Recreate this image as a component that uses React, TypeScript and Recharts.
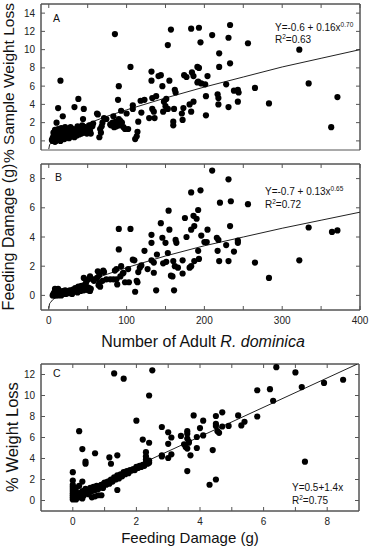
import React from "react";
import { ScatterChart, Scatter, XAxis, YAxis, ReferenceArea } from "recharts";

// tick positions
const adultTicks = [0, 50, 100, 150, 200, 250, 300, 350, 400];
const damageTicks = [0, 1, 2, 3, 4, 5, 6, 7, 8];
const lossTicksA = [0, 2, 4, 6, 8, 10, 12, 14];
const damageTicksB = [0, 2, 4, 6, 8];
const lossTicksC = [0, 2, 4, 6, 8, 10, 12];

// A: number of adults vs % sample weight loss
const weightLossA: [number, number][] = [
  [85, 11.7], [15, 6.6], [157, 12.2], [153, 10.5], [183, 12.3], [193, 12.4], [195, 10.8], [210, 11.6],
  [233, 12.7], [231, 11.3], [256, 10.7], [322, 10.0], [219, 9.6], [219, 8.1], [233, 8.5], [105, 8.1],
  [132, 7.6], [141, 7.1], [144, 7.2], [174, 7.2], [177, 7.0], [184, 7.5], [186, 7.1], [191, 8.1],
  [193, 8.0], [204, 7.1], [132, 6.6], [155, 6.6], [146, 6.0], [90, 6.0], [162, 5.6], [163, 5.3],
  [192, 6.5], [196, 6.3], [201, 6.2], [191, 6.4], [228, 6.2], [265, 5.8], [334, 6.3], [238, 5.5],
  [243, 5.6], [244, 5.3], [202, 4.9], [217, 5.1], [218, 4.7], [371, 4.8], [218, 4.0], [231, 3.7],
  [243, 4.3], [283, 4.1], [202, 2.8], [363, 1.5], [181, 4.0], [183, 3.2], [186, 4.3], [171, 3.0],
  [173, 3.6], [172, 2.3], [160, 2.1], [160, 1.7], [161, 3.5], [153, 3.5], [147, 3.2], [150, 3.8],
  [151, 4.6], [148, 4.3], [138, 4.9], [133, 4.7], [133, 3.5], [135, 3.2], [136, 2.5], [129, 2.5],
  [123, 4.5], [118, 4.4], [119, 3.1], [115, 2.1], [113, 0.5], [111, 0.2], [114, 1.0], [108, 3.5],
  [108, 3.9], [100, 3.0], [98, 1.3], [102, 1.3], [93, 3.3], [89, 4.5], [90, 2.4], [87, 1.6],
  [83, 2.7], [79, 1.8], [85, 1.6], [91, 1.7], [71, 2.5], [68, 1.6], [62, 3.0], [66, 1.3],
  [65, 0.4], [67, 0.9], [69, 2.0], [74, 2.4], [63, 2.9], [57, 1.9], [56, 1.6], [47, 1.3],
  [44, 1.3], [46, 0.9], [49, 0.8], [44, 2.4], [38, 4.6], [45, 3.5], [33, 3.7], [18, 2.7],
  [12, 3.6], [10, 2.0], [21, 1.5], [80, 1.7], [82, 2.0], [84, 1.5], [86, 2.1], [88, 1.9],
  [92, 2.2], [94, 2.0], [96, 1.5],
  [4, 0.1], [5, 0.3], [5, 0.0], [6, 0.5], [6, 0.2], [7, 0.8], [7, 0.1], [8, 1.2], [8, 0.4],
  [9, 0.0], [9, 0.6], [10, 1.0], [10, 0.3], [11, 0.1], [11, 0.7], [12, 1.3], [12, 0.4], [13, 0.2],
  [14, 0.9], [14, 0.5], [15, 0.0], [16, 0.6], [16, 1.4], [17, 0.3], [18, 0.8], [19, 0.5], [20, 1.0],
  [20, 0.2], [22, 0.7], [23, 0.4], [24, 1.1], [25, 0.6], [26, 0.3], [27, 0.9], [28, 1.5], [29, 0.5],
  [30, 1.0], [31, 0.7], [32, 1.3], [33, 0.4], [34, 0.9], [35, 1.2], [36, 0.6], [37, 1.6], [38, 1.0],
  [39, 0.7], [40, 1.4], [41, 1.1], [42, 0.8], [43, 1.7], [45, 1.0], [46, 1.5], [48, 1.2], [50, 0.9],
  [51, 1.4], [53, 1.1], [54, 0.8], [52, 1.7], [6, 0.9], [8, -0.1], [13, 1.0], [21, 0.9],
];
const fitA: [number, number][] = [
  [0, -0.9], [1, -0.45], [2, -0.3], [5, -0.1], [10, 0.2], [25, 0.9], [50, 1.9], [75, 2.7],
  [100, 3.4], [150, 4.7], [200, 5.9], [250, 7.0], [300, 8.1], [350, 9.05], [400, 10.0],
];

// B: number of adults vs feeding damage (g)
const damageB: [number, number][] = [
  [210, 8.55], [231, 7.95], [183, 7.05], [195, 7.2], [220, 6.35], [234, 6.45], [256, 6.25], [154, 5.8],
  [192, 5.85], [175, 5.3], [186, 5.45], [190, 5.25], [144, 4.95], [90, 4.55], [105, 4.55], [155, 4.5],
  [183, 4.5], [187, 4.75], [204, 4.5], [233, 4.75], [334, 4.65], [364, 4.35], [371, 4.45], [132, 4.15],
  [146, 3.95], [177, 4.0], [196, 4.1], [200, 3.65], [203, 3.65], [216, 3.95], [218, 3.8], [163, 3.8],
  [150, 3.6], [132, 3.6], [164, 3.6], [243, 3.75], [243, 3.6], [90, 3.15], [123, 3.05], [192, 3.05],
  [217, 3.05], [238, 3.0], [228, 3.45], [153, 2.9], [139, 2.8], [108, 2.45], [110, 2.4], [132, 2.4],
  [135, 2.25], [147, 2.2], [151, 2.3], [160, 2.35], [172, 2.4], [187, 2.35], [193, 2.5], [183, 2.0],
  [181, 1.9], [162, 2.0], [166, 1.9], [219, 2.35], [231, 2.35], [265, 2.25], [322, 2.4], [119, 2.05],
  [117, 1.9], [127, 1.8], [135, 1.55], [157, 1.35], [159, 1.3], [172, 1.5], [283, 1.2], [115, 1.6],
  [114, 0.9], [113, 1.0], [103, 0.9], [98, 0.9], [96, 1.55], [102, 1.8], [93, 2.0], [95, 1.5],
  [87, 1.8], [85, 1.7], [92, 1.3], [87, 1.1], [88, 0.75], [83, 1.1], [71, 1.6], [70, 1.7], [65, 1.4],
  [65, 0.85], [64, 0.7], [66, 0.6], [69, 1.0], [74, 1.1], [79, 1.1], [63, 1.65], [62, 1.2], [58, 1.0],
  [57, 1.1], [53, 1.3], [51, 1.1], [48, 0.9], [45, 1.2], [111, 0.25], [138, 0.35], [161, 0.35],
  [5, 0.0], [6, 0.1], [7, 0.2], [7, 0.0], [8, 0.3], [8, 0.1], [9, 0.4], [9, 0.0], [10, 0.2],
  [10, 0.1], [11, 0.3], [12, 0.0], [12, 0.2], [13, 0.1], [14, 0.3], [15, 0.15], [16, 0.0], [17, 0.2],
  [18, 0.3], [19, 0.1], [20, 0.2], [21, 0.35], [22, 0.1], [23, 0.25], [24, 0.2], [25, 0.3], [26, 0.15],
  [27, 0.35], [28, 0.2], [29, 0.3], [30, 0.1], [31, 0.4], [32, 0.25], [33, 0.35], [34, 0.5], [35, 0.3],
  [36, 0.45], [37, 0.2], [38, 0.6], [39, 0.4], [40, 0.5], [41, 0.3], [42, 0.65], [43, 0.45], [44, 0.55],
  [45, 0.35], [46, 0.7], [47, 0.5], [48, 0.6], [49, 0.4], [50, 0.55], [51, 0.35], [52, 0.5], [53, 0.3],
  [54, 0.45], [8, 0.45], [12, 0.45],
];
const fitB: [number, number][] = [
  [0, -0.9], [1, -0.57], [2, -0.5], [5, -0.3], [10, -0.1], [25, 0.4], [50, 1.0], [75, 1.45],
  [100, 1.9], [150, 2.7], [200, 3.4], [250, 4.0], [300, 4.6], [350, 5.15], [400, 5.7],
];

// C: feeding damage (g) vs % weight loss
const weightLossC: [number, number][] = [
  [1.3, 12.1], [2.5, 12.4], [1.6, 11.6], [2.4, 10.0], [0.2, 6.6], [0.3, 4.9], [0.4, 3.7], [0.4, 3.5],
  [0.7, 4.5], [1.15, 4.1], [1.4, 4.3], [1.2, 3.5], [1.4, 1.0], [2.0, 7.6], [2.2, 5.8], [2.4, 5.5],
  [2.8, 7.0], [3.0, 6.5], [3.1, 6.0], [3.0, 5.4], [2.8, 4.3], [2.8, 4.2], [3.0, 4.05], [3.1, 4.4],
  [3.4, 6.15], [3.6, 6.35], [3.6, 6.6], [3.5, 5.35], [3.55, 5.1], [3.6, 4.95], [3.65, 5.5], [3.6, 5.9],
  [3.65, 5.6], [3.8, 8.1], [3.9, 6.05], [3.9, 5.0], [3.7, 4.3], [4.0, 6.9], [4.1, 7.6], [4.1, 6.2],
  [3.6, 2.8], [4.4, 4.8], [4.3, 1.5], [4.5, 2.0], [4.5, 8.05], [4.5, 7.3], [4.5, 7.1], [4.55, 6.6],
  [4.6, 6.45], [4.7, 8.4], [4.7, 7.05], [4.9, 7.1], [5.2, 8.1], [5.3, 7.15], [5.4, 7.5], [5.8, 10.5],
  [5.8, 8.0], [6.2, 10.6], [6.3, 9.5], [6.4, 12.7], [7.0, 12.2], [7.2, 10.8], [7.3, 3.7], [7.9, 11.2],
  [8.5, 11.5], [2.3, 4.6], [2.3, 4.2], [0.3, 1.8], [0.2, 1.4], [0.9, 0.5], [0.8, 0.5],
  [0, 0.1], [0, 0.3], [0, 0.5], [0, 0.7], [0, 0.9], [0, 1.1], [0, 1.3], [0, 1.5], [0, 1.9], [0, 2.7],
  [0.05, 0.2], [0.05, 0.6], [0.05, 1.0], [0.1, 0.4], [0.1, 0.8], [0.1, 1.2], [0.1, 0.1], [0.15, 0.5],
  [0.2, 0.3], [0.2, 0.7], [0.25, 0.6], [0.3, 0.9], [0.35, 0.5], [0.4, 0.8], [0.4, 1.1], [0.45, 0.7],
  [0.5, 1.0], [0.5, 0.6], [0.55, 1.2], [0.6, 0.9], [0.65, 1.3], [0.7, 1.0], [0.75, 1.4], [0.8, 1.1],
  [0.85, 1.3], [0.9, 1.5], [0.95, 1.2], [1.0, 1.7], [1.05, 1.5], [1.1, 1.8], [1.15, 1.6], [1.2, 2.0],
  [1.25, 1.8], [1.3, 2.2], [1.35, 2.0], [1.4, 2.4], [1.45, 2.1], [1.5, 2.5], [1.55, 2.3], [1.6, 2.7],
  [1.65, 2.5], [1.7, 2.8], [1.75, 2.6], [1.8, 2.9], [1.85, 2.85], [1.9, 3.0], [1.95, 2.9], [2.0, 3.2],
  [2.05, 3.1], [2.1, 3.3], [2.15, 3.2], [2.2, 3.4], [2.25, 3.3], [2.3, 3.6], [2.3, 3.9], [2.35, 3.5],
  [2.4, 3.8], [2.4, 3.6], [0.7, 0.4], [0.3, 0.2], [0.6, 0.3],
];
const fitC: [number, number][] = [[0, 0.5], [8.95, 13.0]];

const FONT = "'Liberation Sans', Arial, sans-serif";
const AXIS = "#555";

const toXY = (pts: [number, number][]) => pts.map(([x, y]) => ({ x, y }));
const dot = (p: any) => <circle cx={p.cx} cy={p.cy} r={3.1} fill="#000" />;
const noDot = () => <g />;
const blank = () => "";

interface PanelProps {
  top: number;
  height: number;
  margin: { top: number; right: number; bottom: number; left: number };
  xDomain: [number, number];
  xTicks: number[];
  xFormat: (v: number) => string;
  xHeight: number;
  yDomain: [number, number];
  yTicks: number[];
  points: [number, number][];
  fit: [number, number][];
}

function Panel({ top, height, margin, xDomain, xTicks, xFormat, xHeight, yDomain, yTicks, points, fit }: PanelProps) {
  const tick = { fontSize: 10, fill: "#222", fontFamily: FONT };
  const line = { stroke: AXIS, strokeWidth: 1 };
  return (
    <div style={{ position: "absolute", left: 0, top }}>
      <ScatterChart width={372} height={height} margin={margin}>
        <XAxis
          dataKey="x"
          type="number"
          domain={xDomain}
          ticks={xTicks}
          allowDataOverflow
          tickFormatter={xFormat}
          height={xHeight}
          tickSize={-4}
          tickMargin={11}
          tick={tick}
          axisLine={line}
          tickLine={line}
          interval={0}
        />
        <XAxis
          xAxisId="top"
          dataKey="x"
          orientation="top"
          type="number"
          domain={xDomain}
          ticks={xTicks}
          allowDataOverflow
          tickFormatter={blank}
          height={1}
          tickSize={-4}
          axisLine={line}
          tickLine={line}
          interval={0}
        />
        <YAxis
          dataKey="y"
          type="number"
          domain={yDomain}
          ticks={yTicks}
          allowDataOverflow
          width={41}
          tickSize={-4}
          tickMargin={10}
          tick={tick}
          axisLine={line}
          tickLine={line}
          interval={0}
        />
        <YAxis
          yAxisId="right"
          dataKey="y"
          orientation="right"
          type="number"
          domain={yDomain}
          ticks={yTicks}
          allowDataOverflow
          width={1}
          tickSize={-4}
          tickFormatter={blank}
          axisLine={line}
          tickLine={line}
          interval={0}
        />
        {/* plot frame */}
        <ReferenceArea
          x1={xDomain[0]}
          x2={xDomain[1]}
          y1={yDomain[0]}
          y2={yDomain[1]}
          fill="none"
          fillOpacity={0}
          stroke={AXIS}
          strokeWidth={1}
          ifOverflow="visible"
        />
        {/* invisible series that keeps the mirrored top/right axes drawn */}
        <Scatter data={toXY(fit)} xAxisId="top" yAxisId="right" shape={noDot} isAnimationActive={false} />
        <Scatter data={toXY(fit)} line={{ stroke: "#222", strokeWidth: 1 }} shape={noDot} isAnimationActive={false} />
        <Scatter data={toXY(points)} shape={dot} isAnimationActive={false} />
      </ScatterChart>
    </div>
  );
}

const Sup = ({ children }: { children: string }) => (
  <tspan dy={-4} fontSize={6.5}>{children}</tspan>
);

export default function App() {
  const hundreds = (v: number) => (v % 100 === 0 ? String(v) : "");
  const evens = (v: number) => (v % 2 === 0 ? String(v) : "");
  return (
    <div style={{ position: "absolute", left: 0, top: 0, width: 372, height: 550, background: "#fff" }}>
      <Panel
        top={0}
        height={160}
        margin={{ top: 3, right: 11, bottom: 10, left: 0 }}
        xDomain={[-10, 400]}
        xTicks={adultTicks}
        xFormat={blank}
        xHeight={0}
        yDomain={[-1, 15]}
        yTicks={lossTicksA}
        points={weightLossA}
        fit={fitA}
      />
      <Panel
        top={160}
        height={170}
        margin={{ top: 3, right: 11, bottom: 0, left: 0 }}
        xDomain={[-10, 400]}
        xTicks={adultTicks}
        xFormat={hundreds}
        xHeight={20}
        yDomain={[-1, 9]}
        yTicks={damageTicksB}
        points={damageB}
        fit={fitB}
      />
      <Panel
        top={350}
        height={200}
        margin={{ top: 13, right: 12, bottom: 19, left: 0 }}
        xDomain={[-1, 9]}
        xTicks={damageTicks}
        xFormat={evens}
        xHeight={20}
        yDomain={[-1, 13]}
        yTicks={lossTicksC}
        points={weightLossC}
        fit={fitC}
      />
      <svg width={372} height={550} style={{ position: "absolute", left: 0, top: 0, pointerEvents: "none" }} fontFamily={FONT} fill="#111">
        {/* axis titles */}
        <text x={14} y={83} fontSize={15.5} textAnchor="middle" transform="rotate(-90 14 83)">% Sample Weight Loss</text>
        <text x={14} y={237} fontSize={16} textAnchor="middle" transform="rotate(-90 14 237)">Feeding Damage (g)</text>
        <text x={17.5} y={437} fontSize={16.5} textAnchor="middle" transform="rotate(-90 17.5 437)">% Weight Loss</text>
        <text x={203} y={347} fontSize={16} textAnchor="middle">
          Number of Adult <tspan fontStyle="italic">R. dominica</tspan>
        </text>
        <text x={190} y={543} fontSize={15} textAnchor="middle">Feeding Damage (g)</text>
        {/* panel letters */}
        <text x={53} y={21.5} fontSize={10.5}>A</text>
        <text x={55} y={181} fontSize={10.5}>B</text>
        <text x={53} y={377} fontSize={10.5}>C</text>
        {/* fitted equations */}
        <text x={275} y={31} fontSize={10}>Y=-0.6 + 0.16x<Sup>0.70</Sup></text>
        <text x={275} y={43} fontSize={10}>R<Sup>2</Sup><tspan dy={4}>=0.63</tspan></text>
        <text x={265} y={195} fontSize={10}>Y=-0.7 + 0.13x<Sup>0.65</Sup></text>
        <text x={265} y={208} fontSize={10}>R<Sup>2</Sup><tspan dy={4}>=0.72</tspan></text>
        <text x={292} y={490.5} fontSize={10}>Y=0.5+1.4x</text>
        <text x={292} y={504} fontSize={10}>R<Sup>2</Sup><tspan dy={4}>=0.75</tspan></text>
      </svg>
    </div>
  );
}
